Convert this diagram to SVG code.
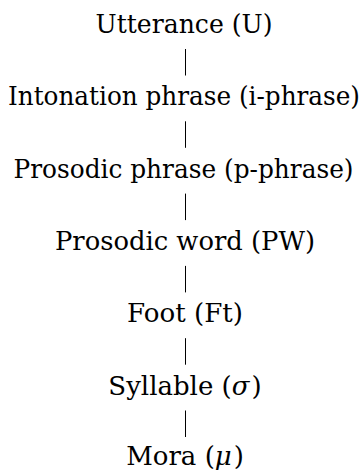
<svg xmlns="http://www.w3.org/2000/svg" width="363" height="470" viewBox="0 0 363 470">
  <style>
    .lbl { font-family: 'DejaVu Serif', 'Liberation Serif', serif; font-size: 26px; fill: #000; text-anchor: middle; }
    .math { font-style: italic; }
    .edge { stroke: #000; stroke-width: 1; fill: none; }
  </style>
  <rect width="363" height="470" fill="#fff"/>
  <!-- vertical links between prosodic levels -->
  <g id="connectors">
    <line class="edge" x1="185.5" y1="49" x2="185.5" y2="75.5"/>
    <line class="edge" x1="185.5" y1="121.3" x2="185.5" y2="147.8"/>
    <line class="edge" x1="185.5" y1="193.6" x2="185.5" y2="220.1"/>
    <line class="edge" x1="185.5" y1="265.9" x2="185.5" y2="292.4"/>
    <line class="edge" x1="185.5" y1="338.2" x2="185.5" y2="364.7"/>
    <line class="edge" x1="185.5" y1="410.5" x2="185.5" y2="437"/>
  </g>
  <g id="utterance"><text class="lbl" x="184" y="33" textLength="177" lengthAdjust="spacingAndGlyphs">Utterance (U)</text></g>
  <g id="intonation-phrase"><text class="lbl" x="184" y="105.3" textLength="352" lengthAdjust="spacingAndGlyphs">Intonation phrase (i-phrase)</text></g>
  <g id="prosodic-phrase"><text class="lbl" x="183.5" y="177.6" textLength="340" lengthAdjust="spacingAndGlyphs">Prosodic phrase (p-phrase)</text></g>
  <g id="prosodic-word"><text class="lbl" x="185" y="249.9" textLength="260" lengthAdjust="spacingAndGlyphs">Prosodic word (PW)</text></g>
  <g id="foot"><text class="lbl" x="185" y="322.2" textLength="116" lengthAdjust="spacingAndGlyphs">Foot (Ft)</text></g>
  <g id="syllable"><text class="lbl" x="185" y="394.5" font-size="25">Syllable (<tspan class="math">σ</tspan><tspan dx="2">)</tspan></text></g>
  <g id="mora"><text class="lbl" x="185" y="465">Mora (<tspan class="math">μ</tspan><tspan dx="2">)</tspan></text></g>
</svg>
